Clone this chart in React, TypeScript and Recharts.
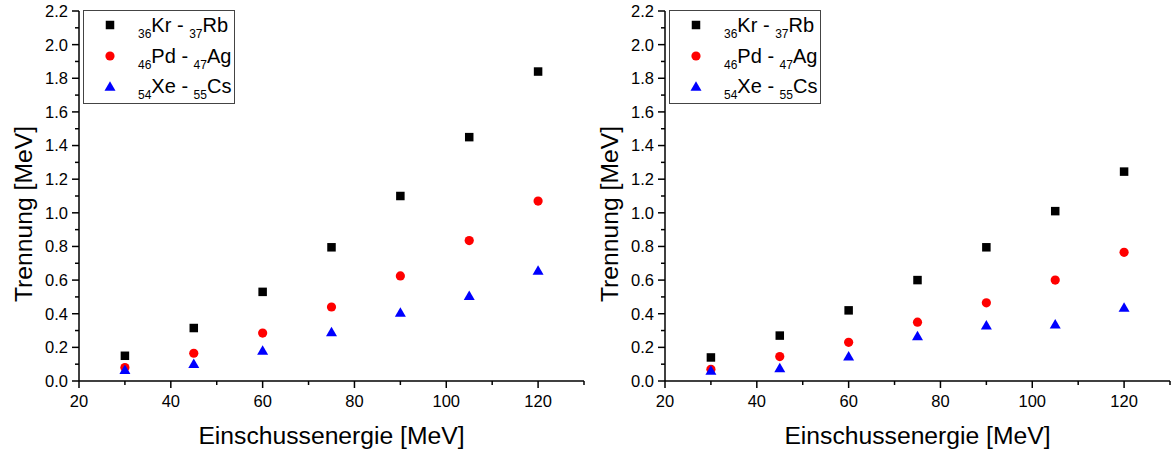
import React from 'react';
import { ScatterChart, Scatter, XAxis, YAxis, Legend, Label } from 'recharts';

// ---- data ----
const energies = [30, 45, 60, 75, 90, 105, 120];

const leftKrRb = [0.15, 0.315, 0.53, 0.795, 1.1, 1.45, 1.84];
const leftPdAg = [0.08, 0.165, 0.285, 0.44, 0.625, 0.835, 1.07];
const leftXeCs = [0.07, 0.105, 0.185, 0.295, 0.41, 0.51, 0.66];

const rightKrRb = [0.14, 0.27, 0.42, 0.6, 0.795, 1.01, 1.245];
const rightPdAg = [0.07, 0.145, 0.23, 0.35, 0.465, 0.6, 0.765];
const rightXeCs = [0.065, 0.08, 0.15, 0.27, 0.335, 0.34, 0.44];

const xMajorTicks = [20, 40, 60, 80, 100, 120];
const xMinorTicks = [30, 50, 70, 90, 110, 130];
const yMajorTicks = [0, 0.2, 0.4, 0.6, 0.8, 1.0, 1.2, 1.4, 1.6, 1.8, 2.0, 2.2];
const yMinorTicks = [0.1, 0.3, 0.5, 0.7, 0.9, 1.1, 1.3, 1.5, 1.7, 1.9, 2.1];

const seriesNames = [
  { sub1: '36', el1: 'Kr', sub2: '37', el2: 'Rb' },
  { sub1: '46', el1: 'Pd', sub2: '47', el2: 'Ag' },
  { sub1: '54', el1: 'Xe', sub2: '55', el2: 'Cs' },
];

const xLabel = 'Einschussenergie [MeV]';
const yLabel = 'Trennung [MeV]';

const FONT = '"Liberation Sans", Arial, sans-serif';

const toPoints = (vals: number[]) => energies.map((e, i) => ({ x: e, y: vals[i] }));

const xTicksAll = [...xMajorTicks, ...xMinorTicks].sort((a, b) => a - b);
const yTicksAll = [...yMajorTicks, ...yMinorTicks].sort((a, b) => a - b);
const isMajor = (arr: number[], v: number) => arr.some((m) => Math.abs(m - v) < 1e-9);

const XTick = (props: any) => {
  const { x, y, payload } = props;
  const major = isMajor(xMajorTicks, payload.value);
  return (
    <g>
      <line x1={x} x2={x} y1={y} y2={y + (major ? 7 : 4)} stroke="#000" strokeWidth={1.5} />
      {major && (
        <text x={x} y={y + 26} textAnchor="middle" fontSize={16.5} fontFamily={FONT} fill="#000">
          {payload.value}
        </text>
      )}
    </g>
  );
};

const YTick = (props: any) => {
  const { x, y, payload } = props;
  const major = isMajor(yMajorTicks, payload.value);
  return (
    <g>
      <line x1={x - (major ? 7 : 4)} x2={x} y1={y} y2={y} stroke="#000" strokeWidth={1.5} />
      {major && (
        <text x={x - 11} y={y} dy="0.36em" textAnchor="end" fontSize={16.5} fontFamily={FONT} fill="#000">
          {payload.value.toFixed(1)}
        </text>
      )}
    </g>
  );
};

const SquareShape = (props: any) => {
  const { cx, cy } = props;
  const s = 8.5;
  return <rect x={cx - s / 2} y={cy - s / 2} width={s} height={s} fill="#000" />;
};
const CircleShape = (props: any) => {
  const { cx, cy } = props;
  return <circle cx={cx} cy={cy} r={4.6} fill="#ff0000" />;
};
const TriangleShape = (props: any) => {
  const { cx, cy } = props;
  const w = 11;
  const h = 9.5;
  return (
    <polygon
      points={`${cx - w / 2},${cy + h / 2} ${cx + w / 2},${cy + h / 2} ${cx},${cy - h / 2}`}
      fill="#0000ff"
    />
  );
};

const LegendBox = () => {
  const rows = [25 - 10, 56 - 10, 86 - 10];
  const markers = [
    <rect key="m0" x={27 - 4.25} y={rows[0] - 4.25} width={8.5} height={8.5} fill="#000" />,
    <circle key="m1" cx={27} cy={rows[1]} r={4.6} fill="#ff0000" />,
    <polygon
      key="m2"
      points={`${27 - 5.5},${rows[2] + 4.75} ${27 + 5.5},${rows[2] + 4.75} ${27},${rows[2] - 4.75}`}
      fill="#0000ff"
    />,
  ];
  return (
    <svg width={152} height={94} style={{ display: 'block' }}>
      <rect x={0.5} y={0.5} width={151} height={93} fill="#fff" stroke="#444" strokeWidth={1} />
      {markers}
      {seriesNames.map((n, i) => (
        <text key={i} x={55} y={rows[i] + 7} fontFamily={FONT} fontSize={20} fill="#000" style={{ whiteSpace: 'pre' }}>
          <tspan fontSize={12} dy={6}>{n.sub1}</tspan>
          <tspan dy={-6}>{n.el1 + ' - '}</tspan>
          <tspan fontSize={12} dy={6}>{n.sub2}</tspan>
          <tspan dy={-6}>{n.el2}</tspan>
        </text>
      ))}
    </svg>
  );
};

const XTitle = (props: any) => {
  const vb = props.viewBox;
  return (
    <text x={vb.x + vb.width / 2} y={vb.y + 63} textAnchor="middle" fontSize={24.7} fontFamily={FONT} fill="#000">
      {xLabel}
    </text>
  );
};

const YTitle = (props: any) => {
  const vb = props.viewBox;
  const cy = vb.y + vb.height / 2 + 18;
  const cx = 32;
  return (
    <text
      x={cx}
      y={cy}
      transform={`rotate(-90, ${cx}, ${cy})`}
      textAnchor="middle"
      fontSize={24.7}
      fontFamily={FONT}
      fill="#000"
    >
      {yLabel}
    </text>
  );
};

const Panel = ({ kr, pd, xe }: { kr: number[]; pd: number[]; xe: number[] }) => (
  <ScatterChart width={586} height={452} margin={{ top: 11, right: 2, bottom: 0, left: 0 }}>
    <XAxis
      type="number"
      dataKey="x"
      domain={[20, 130]}
      ticks={xTicksAll}
      interval={0}
      tickSize={0}
      tickMargin={0}
      tickLine={false}
      tick={<XTick />}
      height={71}
      axisLine={{ stroke: '#000', strokeWidth: 1.5 }}
      allowDataOverflow
    >
      <Label content={<XTitle />} />
    </XAxis>
    <YAxis
      type="number"
      dataKey="y"
      domain={[0, 2.2]}
      ticks={yTicksAll}
      interval={0}
      tickSize={0}
      tickMargin={0}
      tickLine={false}
      tick={<YTick />}
      width={79}
      axisLine={{ stroke: '#000', strokeWidth: 1.5 }}
      allowDataOverflow
    >
      <Label content={<YTitle />} />
    </YAxis>
    <Legend
      layout="vertical"
      align="center"
      verticalAlign="middle"
      content={() => <LegendBox />}
      wrapperStyle={{ position: 'absolute', left: 83, top: 10, width: 152, height: 94, margin: 0 }}
    />
    <Scatter name="Kr-Rb" data={toPoints(kr)} shape={<SquareShape />} isAnimationActive={false} />
    <Scatter name="Pd-Ag" data={toPoints(pd)} shape={<CircleShape />} isAnimationActive={false} />
    <Scatter name="Xe-Cs" data={toPoints(xe)} shape={<TriangleShape />} isAnimationActive={false} />
  </ScatterChart>
);

export default function App() {
  return (
    <div style={{ position: 'absolute', left: 0, top: 0, width: 1172, height: 452, background: '#fff', overflow: 'hidden' }}>
      <div style={{ position: 'absolute', left: 0, top: 0 }}>
        <Panel kr={leftKrRb} pd={leftPdAg} xe={leftXeCs} />
      </div>
      <div style={{ position: 'absolute', left: 586, top: 0 }}>
        <Panel kr={rightKrRb} pd={rightPdAg} xe={rightXeCs} />
      </div>
    </div>
  );
}
